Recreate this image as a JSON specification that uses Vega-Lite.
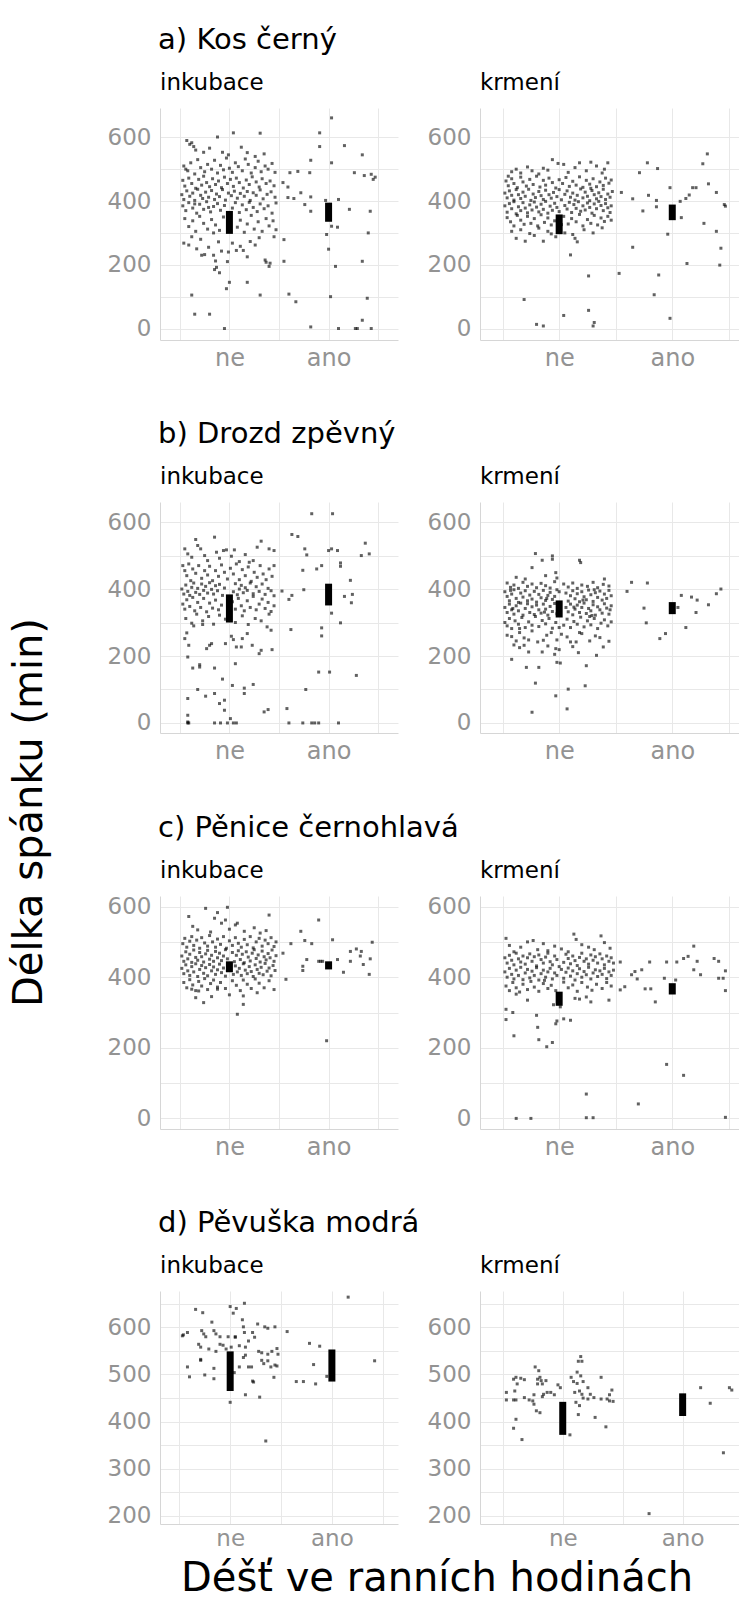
{
"$schema":"https://vega.github.io/schema/vega-lite/v6.json",
"padding":{"left":10,"top":26,"right":0,"bottom":0},
"config":{
 "font":"DejaVu Sans",
 "view":{"stroke":null},
 "axis":{"labelFont":"DejaVu Sans","labelColor":"#939393","gridColor":"#e8e8e8","gridWidth":1,"domainColor":"#d6d6d6","domainWidth":1,"ticks":false,"labelOverlap":false},
 "axisX":{"labelFontSize":24,"labelPadding":6},
 "axisY":{"labelFontSize":23,"labelPadding":9},
 "title":{"font":"DejaVu Sans","fontWeight":"normal","color":"#000000"}
},
"datasets":{
"bars":[{"p":"ai","x":100,"y":297,"y2":369},{"p":"ai","x":200,"y":335,"y2":395},{"p":"ak","x":100,"y":296,"y2":358},{"p":"ak","x":200,"y":340,"y2":389},{"p":"bi","x":100,"y":300,"y2":384},{"p":"bi","x":200,"y":351,"y2":416},{"p":"bk","x":100,"y":315,"y2":366},{"p":"bk","x":200,"y":325,"y2":361},{"p":"ci","x":100,"y":414,"y2":445},{"p":"ci","x":200,"y":422,"y2":445},{"p":"ck","x":100,"y":319,"y2":359},{"p":"ck","x":200,"y":351,"y2":383},{"p":"di","x":100,"y":465,"y2":549},{"p":"di","x":200,"y":485,"y2":553},{"p":"dk","x":100,"y":372,"y2":442},{"p":"dk","x":200,"y":412,"y2":460}],
"ai":[{"x":57,"y":590},{"x":60,"y":578},{"x":62,"y":583},{"x":64,"y":571},{"x":66,"y":560},{"x":88,"y":601},{"x":104,"y":614},{"x":131,"y":613},{"x":74,"y":553},{"x":93,"y":553},{"x":99,"y":545},{"x":112,"y":569},{"x":118,"y":552},{"x":126,"y":540},{"x":135,"y":548},{"x":80,"y":566},
{"x":54,"y":510},{"x":56,"y":500},{"x":58,"y":495},{"x":61,"y":520},{"x":65,"y":485},{"x":68,"y":530},{"x":71,"y":505},{"x":75,"y":492},{"x":78,"y":515},{"x":82,"y":500},{"x":85,"y":528},{"x":88,"y":488},{"x":91,"y":512},{"x":94,"y":498},{"x":97,"y":535},{"x":100,"y":503},{"x":103,"y":490},{"x":106,"y":520},{"x":109,"y":508},{"x":113,"y":495},{"x":116,"y":532},{"x":119,"y":515},{"x":122,"y":488},{"x":126,"y":505},{"x":129,"y":525},{"x":132,"y":492},{"x":136,"y":510},{"x":139,"y":500},{"x":143,"y":518},{"x":146,"y":490},
{"x":53,"y":465},{"x":55,"y":447},{"x":59,"y":472},{"x":62,"y":455},{"x":66,"y":440},{"x":69,"y":468},{"x":72,"y":450},{"x":74,"y":478},{"x":77,"y":458},{"x":80,"y":445},{"x":83,"y":470},{"x":86,"y":452},{"x":89,"y":463},{"x":92,"y":442},{"x":95,"y":475},{"x":98,"y":455},{"x":101,"y":468},{"x":104,"y":446},{"x":107,"y":472},{"x":110,"y":458},{"x":114,"y":441},{"x":117,"y":466},{"x":120,"y":452},{"x":123,"y":476},{"x":127,"y":460},{"x":130,"y":444},{"x":133,"y":470},{"x":137,"y":455},{"x":141,"y":463},{"x":145,"y":448},
{"x":52,"y":420},{"x":54,"y":405},{"x":57,"y":432},{"x":60,"y":415},{"x":63,"y":425},{"x":65,"y":402},{"x":68,"y":437},{"x":71,"y":418},{"x":73,"y":408},{"x":76,"y":428},{"x":79,"y":412},{"x":82,"y":433},{"x":85,"y":405},{"x":87,"y":422},{"x":90,"y":414},{"x":93,"y":436},{"x":96,"y":403},{"x":99,"y":425},{"x":102,"y":417},{"x":105,"y":431},{"x":108,"y":409},{"x":111,"y":424},{"x":115,"y":415},{"x":118,"y":430},{"x":121,"y":402},{"x":124,"y":426},{"x":127,"y":418},{"x":131,"y":435},{"x":134,"y":407},{"x":138,"y":421},{"x":142,"y":429},{"x":146,"y":412},
{"x":53,"y":385},{"x":56,"y":370},{"x":59,"y":395},{"x":63,"y":378},{"x":67,"y":362},{"x":70,"y":390},{"x":74,"y":374},{"x":77,"y":398},{"x":81,"y":366},{"x":84,"y":383},{"x":88,"y":392},{"x":91,"y":371},{"x":95,"y":386},{"x":103,"y":378},{"x":106,"y":395},{"x":110,"y":364},{"x":113,"y":388},{"x":117,"y":373},{"x":120,"y":396},{"x":124,"y":380},{"x":128,"y":367},{"x":131,"y":391},{"x":135,"y":376},{"x":139,"y":385},{"x":143,"y":362},{"x":147,"y":394},{"x":79,"y":380},{"x":65,"y":391},
{"x":55,"y":345},{"x":59,"y":320},{"x":63,"y":338},{"x":66,"y":305},{"x":70,"y":352},{"x":74,"y":330},{"x":78,"y":312},{"x":82,"y":342},{"x":86,"y":325},{"x":90,"y":308},{"x":94,"y":350},{"x":108,"y":318},{"x":111,"y":340},{"x":115,"y":302},{"x":118,"y":328},{"x":122,"y":355},{"x":125,"y":312},{"x":129,"y":335},{"x":133,"y":305},{"x":137,"y":345},{"x":140,"y":322},{"x":144,"y":338},{"x":147,"y":310},{"x":84,"y":300},
{"x":54,"y":268},{"x":59,"y":262},{"x":62,"y":288},{"x":67,"y":250},{"x":71,"y":280},{"x":75,"y":232},{"x":79,"y":255},{"x":84,"y":230},{"x":89,"y":272},{"x":92,"y":243},{"x":98,"y":210},{"x":103,"y":268},{"x":107,"y":245},{"x":111,"y":258},{"x":114,"y":245},{"x":118,"y":225},{"x":121,"y":273},{"x":126,"y":262},{"x":130,"y":285},{"x":136,"y":215},{"x":141,"y":205},{"x":145,"y":288},
{"x":62,"y":105},{"x":65,"y":45},{"x":80,"y":45},{"x":85,"y":185},{"x":87,"y":192},{"x":90,"y":175},{"x":95,"y":0},{"x":97,"y":125},{"x":100,"y":145},{"x":118,"y":145},{"x":131,"y":105},{"x":140,"y":195},{"x":72,"y":230},{"x":99,"y":240},{"x":86,"y":212},{"x":137,"y":208},
{"x":203,"y":661},{"x":191,"y":614},{"x":191,"y":571},{"x":216,"y":574},{"x":234,"y":545},{"x":182,"y":528},{"x":203,"y":520},{"x":161,"y":489},{"x":169,"y":493},{"x":181,"y":489},{"x":226,"y":489},{"x":243,"y":484},{"x":245,"y":468},{"x":154,"y":458},{"x":159,"y":444},{"x":172,"y":426},{"x":159,"y":411},{"x":165,"y":408},{"x":182,"y":413},{"x":197,"y":402},{"x":210,"y":405},{"x":221,"y":374},{"x":242,"y":368},{"x":182,"y":368},{"x":176,"y":389},{"x":209,"y":318},{"x":203,"y":321},{"x":198,"y":295},{"x":200,"y":249},{"x":240,"y":300},{"x":155,"y":279},{"x":155,"y":211},{"x":207,"y":195},{"x":234,"y":211},{"x":160,"y":108},{"x":167,"y":84},{"x":202,"y":100},{"x":239,"y":95},{"x":182,"y":5},{"x":210,"y":0},{"x":227,"y":0},{"x":229,"y":0},{"x":234,"y":26},{"x":243,"y":0},{"x":247,"y":475},{"x":236,"y":480}],
"ak":[{"x":55,"y":478},{"x":58,"y":492},{"x":62,"y":500},{"x":66,"y":488},{"x":72,"y":507},{"x":76,"y":495},{"x":82,"y":485},{"x":86,"y":503},{"x":90,"y":497},{"x":94,"y":530},{"x":99,"y":518},{"x":104,"y":515},{"x":108,"y":490},{"x":114,"y":505},{"x":118,"y":520},{"x":124,"y":495},{"x":128,"y":522},{"x":133,"y":510},{"x":138,"y":488},{"x":143,"y":520},{"x":140,"y":500},
{"x":53,"y":463},{"x":55,"y":448},{"x":58,"y":470},{"x":60,"y":455},{"x":63,"y":442},{"x":66,"y":475},{"x":68,"y":460},{"x":71,"y":447},{"x":74,"y":468},{"x":77,"y":452},{"x":80,"y":478},{"x":83,"y":444},{"x":86,"y":465},{"x":88,"y":450},{"x":91,"y":472},{"x":94,"y":458},{"x":97,"y":441},{"x":100,"y":467},{"x":103,"y":455},{"x":106,"y":474},{"x":109,"y":446},{"x":112,"y":462},{"x":115,"y":450},{"x":118,"y":476},{"x":121,"y":443},{"x":124,"y":465},{"x":127,"y":453},{"x":130,"y":470},{"x":133,"y":445},{"x":136,"y":460},{"x":139,"y":449},{"x":141,"y":472},{"x":144,"y":456},{"x":146,"y":466},{"x":128,"y":440},
{"x":52,"y":425},{"x":54,"y":410},{"x":56,"y":432},{"x":58,"y":418},{"x":60,"y":403},{"x":62,"y":436},{"x":64,"y":420},{"x":66,"y":408},{"x":68,"y":428},{"x":70,"y":415},{"x":73,"y":437},{"x":75,"y":402},{"x":77,"y":422},{"x":79,"y":411},{"x":82,"y":430},{"x":84,"y":417},{"x":86,"y":405},{"x":88,"y":434},{"x":91,"y":420},{"x":93,"y":409},{"x":95,"y":427},{"x":98,"y":414},{"x":100,"y":436},{"x":102,"y":404},{"x":105,"y":421},{"x":107,"y":432},{"x":110,"y":412},{"x":112,"y":425},{"x":114,"y":403},{"x":116,"y":418},{"x":119,"y":438},{"x":121,"y":410},{"x":123,"y":428},{"x":125,"y":415},{"x":127,"y":401},{"x":129,"y":433},{"x":131,"y":420},{"x":133,"y":407},{"x":135,"y":426},{"x":137,"y":414},{"x":139,"y":437},{"x":141,"y":405},{"x":143,"y":422},{"x":145,"y":412},{"x":147,"y":430},
{"x":52,"y":385},{"x":54,"y":365},{"x":56,"y":392},{"x":58,"y":376},{"x":60,"y":398},{"x":62,"y":360},{"x":64,"y":382},{"x":66,"y":370},{"x":68,"y":395},{"x":70,"y":378},{"x":72,"y":363},{"x":74,"y":388},{"x":76,"y":372},{"x":78,"y":397},{"x":80,"y":381},{"x":82,"y":366},{"x":84,"y":390},{"x":86,"y":374},{"x":88,"y":399},{"x":90,"y":362},{"x":92,"y":384},{"x":94,"y":371},{"x":96,"y":393},{"x":98,"y":380},{"x":100,"y":367},{"x":105,"y":386},{"x":107,"y":375},{"x":109,"y":396},{"x":111,"y":364},{"x":113,"y":389},{"x":115,"y":377},{"x":117,"y":398},{"x":119,"y":368},{"x":121,"y":385},{"x":123,"y":372},{"x":125,"y":394},{"x":127,"y":380},{"x":129,"y":362},{"x":131,"y":391},{"x":133,"y":376},{"x":135,"y":399},{"x":137,"y":386},{"x":139,"y":370},{"x":141,"y":392},{"x":143,"y":379},{"x":146,"y":385},{"x":145,"y":364},
{"x":54,"y":348},{"x":57,"y":335},{"x":60,"y":322},{"x":63,"y":355},{"x":66,"y":340},{"x":69,"y":327},{"x":72,"y":352},{"x":75,"y":330},{"x":78,"y":345},{"x":81,"y":322},{"x":84,"y":357},{"x":87,"y":333},{"x":90,"y":347},{"x":93,"y":325},{"x":96,"y":338},{"x":104,"y":352},{"x":108,"y":328},{"x":111,"y":345},{"x":115,"y":335},{"x":118,"y":358},{"x":121,"y":322},{"x":125,"y":342},{"x":128,"y":330},{"x":131,"y":355},{"x":134,"y":325},{"x":137,"y":347},{"x":140,"y":336},{"x":143,"y":352},{"x":146,"y":340},{"x":102,"y":326},
{"x":58,"y":305},{"x":62,"y":283},{"x":66,"y":310},{"x":70,"y":274},{"x":74,"y":298},{"x":78,"y":292},{"x":82,"y":315},{"x":86,"y":274},{"x":90,"y":305},{"x":93,"y":297},{"x":97,"y":288},{"x":105,"y":300},{"x":112,"y":295},{"x":114,"y":283},{"x":116,"y":272},{"x":122,"y":310},{"x":130,"y":300},{"x":138,"y":316},
{"x":69,"y":91},{"x":80,"y":13},{"x":86,"y":8},{"x":104,"y":41},{"x":110,"y":231},{"x":126,"y":165},{"x":126,"y":57},{"x":130,"y":8},{"x":131,"y":19},
{"x":153,"y":173},{"x":165,"y":255},{"x":171,"y":489},{"x":174,"y":369},{"x":165,"y":407},{"x":178,"y":520},{"x":187,"y":502},{"x":179,"y":418},{"x":186,"y":402},{"x":186,"y":382},{"x":188,"y":168},{"x":184,"y":106},{"x":198,"y":32},{"x":196,"y":296},{"x":198,"y":442},{"x":207,"y":399},{"x":208,"y":348},{"x":213,"y":204},{"x":212,"y":408},{"x":218,"y":442},{"x":221,"y":442},{"x":215,"y":419},{"x":227,"y":517},{"x":231,"y":548},{"x":232,"y":454},{"x":239,"y":427},{"x":228,"y":330},{"x":239,"y":305},{"x":243,"y":252},{"x":242,"y":199},{"x":246,"y":389},{"x":247,"y":384},{"x":155,"y":427}],
"bi":[{"x":55,"y":520},{"x":58,"y":505},{"x":62,"y":495},{"x":66,"y":548},{"x":68,"y":530},{"x":71,"y":520},{"x":75,"y":500},{"x":78,"y":485},{"x":85,"y":555},{"x":87,"y":510},{"x":90,"y":492},{"x":94,"y":515},{"x":97,"y":517},{"x":102,"y":498},{"x":105,"y":517},{"x":110,"y":482},{"x":116,"y":503},{"x":124,"y":485},{"x":128,"y":525},{"x":132,"y":543},{"x":140,"y":520},{"x":145,"y":515},
{"x":53,"y":470},{"x":55,"y":455},{"x":57,"y":440},{"x":59,"y":475},{"x":61,"y":425},{"x":63,"y":460},{"x":66,"y":447},{"x":69,"y":470},{"x":72,"y":432},{"x":75,"y":455},{"x":78,"y":442},{"x":80,"y":468},{"x":83,"y":425},{"x":86,"y":455},{"x":89,"y":438},{"x":92,"y":472},{"x":95,"y":450},{"x":98,"y":430},{"x":101,"y":462},{"x":104,"y":445},{"x":107,"y":475},{"x":110,"y":428},{"x":113,"y":458},{"x":116,"y":440},{"x":119,"y":466},{"x":122,"y":423},{"x":125,"y":450},{"x":128,"y":435},{"x":131,"y":470},{"x":134,"y":445},{"x":137,"y":428},{"x":140,"y":460},{"x":143,"y":438},{"x":145,"y":470},{"x":120,"y":480},
{"x":52,"y":400},{"x":54,"y":385},{"x":56,"y":412},{"x":58,"y":393},{"x":60,"y":381},{"x":62,"y":405},{"x":64,"y":418},{"x":66,"y":390},{"x":68,"y":402},{"x":70,"y":384},{"x":72,"y":415},{"x":74,"y":396},{"x":76,"y":408},{"x":78,"y":388},{"x":80,"y":419},{"x":82,"y":399},{"x":84,"y":385},{"x":86,"y":410},{"x":88,"y":395},{"x":90,"y":414},{"x":93,"y":381},{"x":95,"y":403},{"x":104,"y":392},{"x":106,"y":416},{"x":108,"y":383},{"x":110,"y":400},{"x":112,"y":411},{"x":114,"y":389},{"x":116,"y":404},{"x":118,"y":396},{"x":121,"y":418},{"x":124,"y":386},{"x":127,"y":407},{"x":130,"y":393},{"x":133,"y":415},{"x":136,"y":384},{"x":139,"y":402},{"x":142,"y":395},{"x":145,"y":380},
{"x":53,"y":355},{"x":55,"y":340},{"x":57,"y":368},{"x":60,"y":348},{"x":63,"y":375},{"x":65,"y":335},{"x":68,"y":360},{"x":71,"y":345},{"x":74,"y":372},{"x":77,"y":332},{"x":80,"y":358},{"x":83,"y":343},{"x":86,"y":367},{"x":89,"y":338},{"x":92,"y":352},{"x":103,"y":362},{"x":106,"y":340},{"x":109,"y":372},{"x":112,"y":350},{"x":115,"y":335},{"x":118,"y":365},{"x":121,"y":345},{"x":124,"y":378},{"x":127,"y":338},{"x":130,"y":355},{"x":133,"y":370},{"x":136,"y":342},{"x":139,"y":360},{"x":142,"y":333},{"x":145,"y":350},
{"x":56,"y":312},{"x":62,"y":298},{"x":67,"y":325},{"x":73,"y":305},{"x":79,"y":318},{"x":84,"y":295},{"x":90,"y":322},{"x":96,"y":310},{"x":106,"y":300},{"x":113,"y":320},{"x":119,"y":294},{"x":126,"y":312},{"x":132,"y":305},{"x":140,"y":325},
{"x":58,"y":0},{"x":58,"y":3},{"x":59,"y":0},{"x":58,"y":23},{"x":85,"y":0},{"x":91,"y":0},{"x":98,"y":0},{"x":104,"y":0},{"x":107,"y":0},{"x":101,"y":13},{"x":58,"y":73},{"x":68,"y":100},{"x":76,"y":80},{"x":85,"y":88},{"x":90,"y":58},{"x":95,"y":68},{"x":95,"y":38},{"x":103,"y":112},{"x":115,"y":104},{"x":115,"y":88},{"x":124,"y":115},{"x":135,"y":33},{"x":139,"y":40},{"x":58,"y":197},{"x":63,"y":164},{"x":70,"y":167},{"x":70,"y":174},{"x":85,"y":164},{"x":93,"y":131},{"x":106,"y":177},{"x":130,"y":207},{"x":132,"y":217},{"x":143,"y":219},{"x":55,"y":252},{"x":57,"y":269},{"x":59,"y":232},{"x":77,"y":222},{"x":80,"y":232},{"x":82,"y":237},{"x":96,"y":237},{"x":102,"y":259},{"x":104,"y":249},{"x":107,"y":227},{"x":112,"y":227},{"x":113,"y":252},{"x":123,"y":232},{"x":118,"y":267},{"x":138,"y":287},{"x":142,"y":277},{"x":64,"y":290},{"x":73,"y":294},
{"x":183,"y":625},{"x":204,"y":625},{"x":163,"y":563},{"x":169,"y":557},{"x":176,"y":520},{"x":178,"y":502},{"x":200,"y":515},{"x":203,"y":520},{"x":209,"y":515},{"x":212,"y":478},{"x":212,"y":468},{"x":188,"y":460},{"x":193,"y":470},{"x":174,"y":456},{"x":237,"y":537},{"x":241,"y":505},{"x":233,"y":500},{"x":153,"y":394},{"x":160,"y":369},{"x":163,"y":381},{"x":175,"y":398},{"x":216,"y":378},{"x":223,"y":359},{"x":224,"y":384},{"x":222,"y":426},{"x":203,"y":328},{"x":212,"y":299},{"x":193,"y":284},{"x":193,"y":260},{"x":162,"y":279},{"x":190,"y":152},{"x":201,"y":152},{"x":228,"y":142},{"x":177,"y":100},{"x":158,"y":43},{"x":160,"y":0},{"x":174,"y":0},{"x":183,"y":0},{"x":186,"y":0},{"x":190,"y":0},{"x":210,"y":0}],
"bk":[{"x":54,"y":418},{"x":57,"y":405},{"x":60,"y":412},{"x":64,"y":402},{"x":68,"y":420},{"x":72,"y":408},{"x":76,"y":415},{"x":80,"y":404},{"x":84,"y":417},{"x":88,"y":410},{"x":92,"y":403},{"x":96,"y":422},{"x":104,"y":415},{"x":108,"y":406},{"x":112,"y":418},{"x":116,"y":402},{"x":120,"y":412},{"x":125,"y":408},{"x":130,"y":420},{"x":134,"y":404},{"x":139,"y":414},{"x":144,"y":409},
{"x":52,"y":392},{"x":54,"y":378},{"x":56,"y":365},{"x":58,"y":385},{"x":60,"y":398},{"x":62,"y":372},{"x":64,"y":360},{"x":66,"y":388},{"x":68,"y":376},{"x":70,"y":395},{"x":72,"y":365},{"x":74,"y":382},{"x":76,"y":370},{"x":78,"y":393},{"x":80,"y":361},{"x":82,"y":384},{"x":84,"y":374},{"x":86,"y":396},{"x":88,"y":366},{"x":90,"y":381},{"x":92,"y":390},{"x":94,"y":369},{"x":96,"y":378},{"x":98,"y":398},{"x":106,"y":388},{"x":108,"y":364},{"x":110,"y":380},{"x":112,"y":395},{"x":114,"y":371},{"x":116,"y":386},{"x":118,"y":362},{"x":120,"y":392},{"x":122,"y":377},{"x":124,"y":368},{"x":126,"y":397},{"x":128,"y":383},{"x":130,"y":363},{"x":132,"y":389},{"x":134,"y":375},{"x":136,"y":394},{"x":138,"y":367},{"x":140,"y":385},{"x":142,"y":372},{"x":144,"y":396},{"x":146,"y":380},{"x":100,"y":392},{"x":89,"y":372},{"x":121,"y":367},{"x":131,"y":398},{"x":57,"y":396},
{"x":52,"y":345},{"x":54,"y":330},{"x":56,"y":355},{"x":58,"y":338},{"x":60,"y":325},{"x":62,"y":350},{"x":64,"y":335},{"x":66,"y":358},{"x":68,"y":322},{"x":70,"y":342},{"x":72,"y":356},{"x":74,"y":330},{"x":76,"y":347},{"x":78,"y":324},{"x":80,"y":352},{"x":82,"y":338},{"x":84,"y":328},{"x":86,"y":355},{"x":88,"y":340},{"x":90,"y":322},{"x":92,"y":348},{"x":94,"y":333},{"x":96,"y":357},{"x":98,"y":326},{"x":106,"y":345},{"x":108,"y":332},{"x":110,"y":355},{"x":112,"y":323},{"x":114,"y":340},{"x":116,"y":352},{"x":118,"y":330},{"x":120,"y":345},{"x":122,"y":358},{"x":124,"y":327},{"x":126,"y":342},{"x":128,"y":335},{"x":130,"y":353},{"x":132,"y":322},{"x":134,"y":347},{"x":136,"y":338},{"x":138,"y":328},{"x":140,"y":356},{"x":142,"y":343},{"x":144,"y":325},{"x":146,"y":350},{"x":59,"y":342},{"x":87,"y":331},{"x":113,"y":346},{"x":129,"y":321},{"x":145,"y":338},
{"x":52,"y":300},{"x":54,"y":290},{"x":56,"y":312},{"x":58,"y":282},{"x":61,"y":305},{"x":64,"y":295},{"x":67,"y":315},{"x":70,"y":285},{"x":73,"y":302},{"x":76,"y":292},{"x":79,"y":318},{"x":82,"y":288},{"x":85,"y":306},{"x":88,"y":296},{"x":91,"y":312},{"x":94,"y":283},{"x":97,"y":300},{"x":104,"y":292},{"x":107,"y":310},{"x":110,"y":285},{"x":113,"y":303},{"x":116,"y":295},{"x":119,"y":316},{"x":122,"y":287},{"x":125,"y":305},{"x":128,"y":293},{"x":131,"y":312},{"x":134,"y":282},{"x":137,"y":298},{"x":140,"y":308},{"x":143,"y":290},{"x":146,"y":302},{"x":65,"y":282},{"x":100,"y":285},{"x":127,"y":318},
{"x":54,"y":262},{"x":58,"y":258},{"x":62,"y":245},{"x":65,"y":270},{"x":69,"y":254},{"x":73,"y":248},{"x":76,"y":275},{"x":81,"y":242},{"x":86,"y":247},{"x":89,"y":262},{"x":93,"y":270},{"x":98,"y":248},{"x":102,"y":265},{"x":107,"y":257},{"x":110,"y":242},{"x":115,"y":242},{"x":118,"y":270},{"x":120,"y":267},{"x":127,"y":245},{"x":132,"y":260},{"x":136,"y":255},{"x":144,"y":244},
{"x":58,"y":190},{"x":71,"y":166},{"x":79,"y":119},{"x":82,"y":166},{"x":76,"y":32},{"x":97,"y":81},{"x":107,"y":42},{"x":108,"y":101},{"x":123,"y":111},{"x":124,"y":171},{"x":133,"y":202},{"x":101,"y":179},{"x":98,"y":181},{"x":97,"y":222},{"x":100,"y":219},{"x":96,"y":205},{"x":65,"y":225},{"x":73,"y":212},{"x":69,"y":232},{"x":60,"y":233},{"x":90,"y":230},{"x":112,"y":228},{"x":139,"y":227},{"x":117,"y":210},{"x":85,"y":212},
{"x":79,"y":506},{"x":85,"y":486},{"x":94,"y":489},{"x":94,"y":499},{"x":76,"y":464},{"x":118,"y":486},{"x":119,"y":479},{"x":97,"y":449},{"x":98,"y":433},{"x":88,"y":440},{"x":70,"y":430},{"x":140,"y":430},{"x":62,"y":435},
{"x":160,"y":393},{"x":164,"y":420},{"x":178,"y":418},{"x":175,"y":343},{"x":177,"y":299},{"x":189,"y":252},{"x":194,"y":267},{"x":205,"y":345},{"x":208,"y":381},{"x":212,"y":285},{"x":217,"y":376},{"x":222,"y":367},{"x":221,"y":330},{"x":232,"y":353},{"x":239,"y":386},{"x":243,"y":400}],
"ci":[{"x":76,"y":595},{"x":98,"y":598},{"x":59,"y":572},{"x":63,"y":544},{"x":85,"y":567},{"x":88,"y":583},{"x":92,"y":553},{"x":96,"y":562},{"x":106,"y":548},{"x":108,"y":553},{"x":140,"y":576},{"x":68,"y":534},{"x":115,"y":530},{"x":125,"y":540},{"x":131,"y":525},{"x":81,"y":528},{"x":100,"y":536},{"x":137,"y":532},
{"x":53,"y":495},{"x":55,"y":510},{"x":57,"y":485},{"x":60,"y":502},{"x":62,"y":515},{"x":64,"y":490},{"x":67,"y":505},{"x":70,"y":482},{"x":72,"y":512},{"x":75,"y":497},{"x":78,"y":488},{"x":80,"y":518},{"x":83,"y":500},{"x":86,"y":485},{"x":88,"y":508},{"x":91,"y":493},{"x":94,"y":515},{"x":97,"y":482},{"x":100,"y":503},{"x":103,"y":490},{"x":106,"y":512},{"x":109,"y":496},{"x":112,"y":485},{"x":115,"y":507},{"x":118,"y":492},{"x":121,"y":515},{"x":124,"y":483},{"x":127,"y":500},{"x":130,"y":510},{"x":133,"y":488},{"x":136,"y":505},{"x":139,"y":495},{"x":142,"y":512},{"x":145,"y":487},{"x":147,"y":500},
{"x":52,"y":460},{"x":54,"y":445},{"x":56,"y":472},{"x":58,"y":452},{"x":60,"y":465},{"x":62,"y":442},{"x":64,"y":477},{"x":66,"y":456},{"x":68,"y":448},{"x":70,"y":470},{"x":72,"y":458},{"x":74,"y":443},{"x":76,"y":466},{"x":78,"y":476},{"x":80,"y":451},{"x":82,"y":462},{"x":84,"y":445},{"x":86,"y":473},{"x":88,"y":455},{"x":90,"y":468},{"x":92,"y":447},{"x":94,"y":460},{"x":96,"y":478},{"x":98,"y":452},{"x":103,"y":470},{"x":105,"y":444},{"x":107,"y":462},{"x":109,"y":475},{"x":111,"y":450},{"x":113,"y":465},{"x":115,"y":441},{"x":117,"y":472},{"x":119,"y":457},{"x":121,"y":446},{"x":123,"y":468},{"x":125,"y":478},{"x":127,"y":453},{"x":129,"y":463},{"x":131,"y":443},{"x":133,"y":474},{"x":135,"y":458},{"x":137,"y":449},{"x":139,"y":467},{"x":141,"y":455},{"x":143,"y":477},{"x":145,"y":445},{"x":147,"y":461},
{"x":52,"y":425},{"x":54,"y":410},{"x":56,"y":435},{"x":58,"y":418},{"x":60,"y":405},{"x":62,"y":430},{"x":64,"y":415},{"x":66,"y":438},{"x":68,"y":402},{"x":70,"y":422},{"x":72,"y":433},{"x":74,"y":411},{"x":76,"y":427},{"x":78,"y":404},{"x":80,"y":436},{"x":82,"y":418},{"x":84,"y":429},{"x":86,"y":408},{"x":88,"y":421},{"x":90,"y":437},{"x":92,"y":413},{"x":94,"y":426},{"x":96,"y":403},{"x":98,"y":419},{"x":104,"y":408},{"x":106,"y":432},{"x":108,"y":415},{"x":110,"y":425},{"x":112,"y":405},{"x":114,"y":438},{"x":116,"y":420},{"x":118,"y":410},{"x":120,"y":430},{"x":122,"y":416},{"x":124,"y":402},{"x":126,"y":435},{"x":128,"y":422},{"x":130,"y":411},{"x":132,"y":428},{"x":134,"y":407},{"x":136,"y":439},{"x":138,"y":417},{"x":140,"y":426},{"x":142,"y":404},{"x":144,"y":433},{"x":146,"y":419},
{"x":54,"y":385},{"x":57,"y":370},{"x":60,"y":393},{"x":63,"y":378},{"x":66,"y":362},{"x":69,"y":388},{"x":72,"y":375},{"x":75,"y":396},{"x":78,"y":365},{"x":81,"y":382},{"x":84,"y":392},{"x":88,"y":372},{"x":91,"y":385},{"x":96,"y":368},{"x":103,"y":390},{"x":107,"y":377},{"x":111,"y":362},{"x":114,"y":392},{"x":118,"y":380},{"x":122,"y":368},{"x":126,"y":395},{"x":130,"y":383},{"x":135,"y":370},{"x":140,"y":390},{"x":145,"y":365},
{"x":74,"y":328},{"x":114,"y":323},{"x":114,"y":347},{"x":128,"y":356},{"x":108,"y":295},{"x":88,"y":366},{"x":62,"y":366},{"x":69,"y":361},{"x":66,"y":342},{"x":82,"y":345},{"x":100,"y":350},
{"x":190,"y":562},{"x":172,"y":530},{"x":176,"y":504},{"x":183,"y":495},{"x":162,"y":495},{"x":154,"y":468},{"x":157,"y":394},{"x":174,"y":431},{"x":174,"y":419},{"x":178,"y":450},{"x":190,"y":445},{"x":192,"y":445},{"x":194,"y":445},{"x":204,"y":506},{"x":209,"y":450},{"x":215,"y":414},{"x":222,"y":473},{"x":222,"y":445},{"x":228,"y":480},{"x":233,"y":473},{"x":235,"y":436},{"x":244,"y":499},{"x":242,"y":452},{"x":241,"y":408},{"x":198,"y":220},{"x":232,"y":460}],
"ck":[{"x":53,"y":510},{"x":56,"y":490},{"x":60,"y":472},{"x":66,"y":485},{"x":72,"y":500},{"x":77,"y":504},{"x":81,"y":478},{"x":86,"y":495},{"x":90,"y":475},{"x":96,"y":488},{"x":102,"y":480},{"x":108,"y":472},{"x":113,"y":522},{"x":115,"y":507},{"x":120,"y":492},{"x":126,"y":485},{"x":131,"y":478},{"x":137,"y":517},{"x":140,"y":498},{"x":145,"y":482},
{"x":52,"y":455},{"x":54,"y":440},{"x":56,"y":462},{"x":58,"y":448},{"x":60,"y":435},{"x":62,"y":468},{"x":64,"y":452},{"x":66,"y":443},{"x":68,"y":460},{"x":70,"y":437},{"x":72,"y":455},{"x":74,"y":466},{"x":76,"y":445},{"x":78,"y":458},{"x":80,"y":432},{"x":82,"y":463},{"x":84,"y":450},{"x":86,"y":440},{"x":88,"y":457},{"x":90,"y":468},{"x":92,"y":444},{"x":94,"y":435},{"x":96,"y":460},{"x":98,"y":450},{"x":104,"y":442},{"x":106,"y":465},{"x":108,"y":453},{"x":110,"y":438},{"x":112,"y":460},{"x":114,"y":447},{"x":116,"y":433},{"x":118,"y":456},{"x":120,"y":468},{"x":122,"y":445},{"x":124,"y":452},{"x":126,"y":437},{"x":128,"y":463},{"x":130,"y":448},{"x":132,"y":458},{"x":134,"y":440},{"x":136,"y":466},{"x":138,"y":452},{"x":140,"y":435},{"x":142,"y":460},{"x":144,"y":445},{"x":146,"y":455},{"x":148,"y":440},
{"x":52,"y":415},{"x":54,"y":400},{"x":56,"y":425},{"x":58,"y":408},{"x":60,"y":395},{"x":62,"y":420},{"x":64,"y":405},{"x":66,"y":428},{"x":68,"y":393},{"x":70,"y":412},{"x":72,"y":422},{"x":74,"y":398},{"x":76,"y":417},{"x":78,"y":405},{"x":80,"y":427},{"x":82,"y":392},{"x":84,"y":410},{"x":86,"y":420},{"x":88,"y":400},{"x":90,"y":415},{"x":92,"y":425},{"x":94,"y":395},{"x":96,"y":412},{"x":98,"y":405},{"x":102,"y":422},{"x":104,"y":397},{"x":106,"y":414},{"x":108,"y":426},{"x":110,"y":403},{"x":112,"y":418},{"x":114,"y":392},{"x":116,"y":410},{"x":118,"y":424},{"x":120,"y":400},{"x":122,"y":416},{"x":124,"y":407},{"x":126,"y":428},{"x":128,"y":395},{"x":130,"y":412},{"x":132,"y":421},{"x":134,"y":402},{"x":136,"y":418},{"x":138,"y":408},{"x":140,"y":425},{"x":142,"y":396},{"x":144,"y":415},{"x":146,"y":405},{"x":148,"y":420},{"x":100,"y":430},{"x":87,"y":391},
{"x":53,"y":375},{"x":56,"y":362},{"x":59,"y":385},{"x":62,"y":370},{"x":65,"y":358},{"x":68,"y":380},{"x":72,"y":365},{"x":75,"y":388},{"x":78,"y":372},{"x":82,"y":360},{"x":86,"y":382},{"x":90,"y":368},{"x":93,"y":377},{"x":97,"y":362},{"x":104,"y":386},{"x":108,"y":370},{"x":112,"y":378},{"x":116,"y":360},{"x":120,"y":385},{"x":125,"y":372},{"x":129,"y":363},{"x":133,"y":380},{"x":138,"y":368},{"x":142,"y":385},{"x":146,"y":375},
{"x":53,"y":309},{"x":59,"y":300},{"x":53,"y":280},{"x":60,"y":234},{"x":80,"y":292},{"x":81,"y":258},{"x":82,"y":223},{"x":89,"y":203},{"x":94,"y":215},{"x":98,"y":276},{"x":97,"y":268},{"x":104,"y":282},{"x":110,"y":278},{"x":95,"y":322},{"x":101,"y":316},{"x":72,"y":335},{"x":62,"y":352},{"x":114,"y":340},{"x":118,"y":338},{"x":124,"y":344},{"x":128,"y":330},{"x":144,"y":335},{"x":62,"y":0},{"x":75,"y":0},{"x":124,"y":69},{"x":124,"y":2},{"x":130,"y":2},
{"x":154,"y":443},{"x":154,"y":364},{"x":158,"y":373},{"x":164,"y":407},{"x":167,"y":416},{"x":169,"y":395},{"x":173,"y":421},{"x":170,"y":41},{"x":176,"y":367},{"x":180,"y":443},{"x":181,"y":367},{"x":185,"y":330},{"x":195,"y":153},{"x":193,"y":397},{"x":195,"y":443},{"x":204,"y":443},{"x":210,"y":122},{"x":210,"y":453},{"x":214,"y":459},{"x":219,"y":488},{"x":222,"y":445},{"x":219,"y":421},{"x":225,"y":407},{"x":237,"y":453},{"x":241,"y":445},{"x":241,"y":397},{"x":245,"y":397},{"x":247,"y":418},{"x":247,"y":362},{"x":247,"y":3},{"x":203,"y":392}],
"di":[{"x":66,"y":638},{"x":73,"y":631},{"x":100,"y":644},{"x":106,"y":640},{"x":114,"y":651},{"x":103,"y":630},{"x":112,"y":616},{"x":82,"y":611},{"x":54,"y":584},{"x":53,"y":582},{"x":58,"y":589},{"x":72,"y":593},{"x":74,"y":586},{"x":76,"y":580},{"x":84,"y":593},{"x":86,"y":586},{"x":90,"y":580},{"x":98,"y":580},{"x":105,"y":580},{"x":105,"y":579},{"x":113,"y":601},{"x":114,"y":589},{"x":122,"y":589},{"x":124,"y":579},{"x":127,"y":607},{"x":134,"y":601},{"x":137,"y":598},{"x":144,"y":601},{"x":156,"y":591},{"x":69,"y":564},{"x":71,"y":558},{"x":79,"y":554},{"x":90,"y":564},{"x":93,"y":562},{"x":96,"y":554},{"x":101,"y":558},{"x":109,"y":561},{"x":115,"y":558},{"x":118,"y":571},{"x":128,"y":549},{"x":131,"y":546},{"x":137,"y":543},{"x":141,"y":549},{"x":146,"y":555},{"x":147,"y":543},{"x":71,"y":532},{"x":86,"y":549},{"x":113,"y":536},{"x":115,"y":541},{"x":131,"y":530},{"x":133,"y":523},{"x":137,"y":529},{"x":144,"y":520},{"x":146,"y":518},{"x":58,"y":516},{"x":60,"y":495},{"x":71,"y":530},{"x":75,"y":499},{"x":84,"y":513},{"x":84,"y":491},{"x":109,"y":516},{"x":104,"y":504},{"x":118,"y":516},{"x":121,"y":516},{"x":140,"y":516},{"x":143,"y":494},{"x":122,"y":486},{"x":123,"y":484},{"x":115,"y":457},{"x":129,"y":452},{"x":100,"y":441},{"x":135,"y":359},
{"x":216,"y":664},{"x":165,"y":485},{"x":172,"y":485},{"x":184,"y":480},{"x":182,"y":521},{"x":188,"y":560},{"x":178,"y":566},{"x":195,"y":496},{"x":242,"y":529}],
"dk":[{"x":53,"y":462},{"x":53,"y":446},{"x":59,"y":490},{"x":61,"y":494},{"x":62,"y":480},{"x":60,"y":465},{"x":59,"y":446},{"x":61,"y":446},{"x":65,"y":492},{"x":68,"y":489},{"x":61,"y":405},{"x":59,"y":386},{"x":66,"y":362},{"x":68,"y":451},{"x":72,"y":446},{"x":75,"y":444},{"x":76,"y":457},{"x":76,"y":437},{"x":77,"y":516},{"x":80,"y":508},{"x":79,"y":490},{"x":79,"y":480},{"x":81,"y":494},{"x":82,"y":487},{"x":83,"y":480},{"x":84,"y":458},{"x":78,"y":423},{"x":81,"y":419},{"x":86,"y":487},{"x":87,"y":462},{"x":83,"y":453},{"x":90,"y":462},{"x":93,"y":457},{"x":96,"y":478},{"x":98,"y":472},{"x":106,"y":372},{"x":107,"y":494},{"x":109,"y":485},{"x":110,"y":462},{"x":111,"y":441},{"x":112,"y":481},{"x":115,"y":538},{"x":113,"y":528},{"x":116,"y":528},{"x":112,"y":505},{"x":115,"y":497},{"x":117,"y":485},{"x":114,"y":465},{"x":116,"y":458},{"x":117,"y":450},{"x":121,"y":472},{"x":121,"y":448},{"x":114,"y":434},{"x":113,"y":415},{"x":123,"y":458},{"x":127,"y":409},{"x":132,"y":494},{"x":132,"y":448},{"x":137,"y":448},{"x":136,"y":389},{"x":139,"y":457},{"x":139,"y":444},{"x":142,"y":443},{"x":141,"y":467},{"x":126,"y":451},
{"x":172,"y":205},{"x":215,"y":472},{"x":223,"y":439},{"x":234,"y":334},{"x":239,"y":472},{"x":241,"y":467}]
},
"title":{"text":"Délka spánku (min)","orient":"left","anchor":"middle","fontSize":40,"offset":57},
"vconcat":[{
 "title":{"text":"Déšť ve ranních hodinách","orient":"bottom","anchor":"middle","fontSize":40,"offset":9,"dx":14},
 "spacing":50,
 "vconcat":[
 {"title":{"text":"a) Kos černý","anchor":"start","fontSize":29,"offset":17,"dx":51},"spacing":29,"hconcat":[
  {"width":238,"height":232,"title":{"text":"inkubace","anchor":"start","frame":"group","fontSize":23,"offset":13},
   "encoding":{"x":{"field":"x","type":"quantitative","scale":{"domain":[30,270],"nice":false,"zero":false},"axis":{"values":[50,100,150,200,250],"labelExpr":"datum.value===100?'ne':datum.value===200?'ano':''","title":null}},
    "y":{"field":"y","type":"quantitative","scale":{"domain":[-36,692],"nice":false,"zero":false},"axis":{"values":[0,100,200,300,400,500,600],"labelExpr":"datum.value%200===0?datum.label:''","title":null}}},
   "layer":[{"data":{"name":"ai"},"mark":{"type":"point","shape":"square","filled":true,"size":9,"color":"#000000","opacity":0.62,"clip":true}},
    {"data":{"name":"bars"},"transform":[{"filter":"datum.p==='ai'"}],"mark":{"type":"rule","strokeWidth":7,"color":"#000000","strokeCap":"butt"},"encoding":{"y2":{"field":"y2"}}}]},
  {"width":259,"height":232,"title":{"text":"krmení","anchor":"start","frame":"group","fontSize":23,"offset":13},
   "encoding":{"x":{"field":"x","type":"quantitative","scale":{"domain":[30,259],"nice":false,"zero":false},"axis":{"values":[50,100,150,200,250],"labelExpr":"datum.value===100?'ne':datum.value===200?'ano':''","title":null}},
    "y":{"field":"y","type":"quantitative","scale":{"domain":[-36,692],"nice":false,"zero":false},"axis":{"values":[0,100,200,300,400,500,600],"labelExpr":"datum.value%200===0?datum.label:''","title":null}}},
   "layer":[{"data":{"name":"ak"},"mark":{"type":"point","shape":"square","filled":true,"size":9,"color":"#000000","opacity":0.62,"clip":true}},
    {"data":{"name":"bars"},"transform":[{"filter":"datum.p==='ak'"}],"mark":{"type":"rule","strokeWidth":7,"color":"#000000","strokeCap":"butt"},"encoding":{"y2":{"field":"y2"}}}]}
 ]},
 {"title":{"text":"b) Drozd zpěvný","anchor":"start","fontSize":29,"offset":17,"dx":51},"spacing":29,"hconcat":[
  {"width":238,"height":231,"title":{"text":"inkubace","anchor":"start","frame":"group","fontSize":23,"offset":13},
   "encoding":{"x":{"field":"x","type":"quantitative","scale":{"domain":[30,270],"nice":false,"zero":false},"axis":{"values":[50,100,150,200,250],"labelExpr":"datum.value===100?'ne':datum.value===200?'ano':''","title":null}},
    "y":{"field":"y","type":"quantitative","scale":{"domain":[-30,660],"nice":false,"zero":false},"axis":{"values":[0,100,200,300,400,500,600],"labelExpr":"datum.value%200===0?datum.label:''","title":null}}},
   "layer":[{"data":{"name":"bi"},"mark":{"type":"point","shape":"square","filled":true,"size":9,"color":"#000000","opacity":0.62,"clip":true}},
    {"data":{"name":"bars"},"transform":[{"filter":"datum.p==='bi'"}],"mark":{"type":"rule","strokeWidth":7,"color":"#000000","strokeCap":"butt"},"encoding":{"y2":{"field":"y2"}}}]},
  {"width":259,"height":231,"title":{"text":"krmení","anchor":"start","frame":"group","fontSize":23,"offset":13},
   "encoding":{"x":{"field":"x","type":"quantitative","scale":{"domain":[30,259],"nice":false,"zero":false},"axis":{"values":[50,100,150,200,250],"labelExpr":"datum.value===100?'ne':datum.value===200?'ano':''","title":null}},
    "y":{"field":"y","type":"quantitative","scale":{"domain":[-30,660],"nice":false,"zero":false},"axis":{"values":[0,100,200,300,400,500,600],"labelExpr":"datum.value%200===0?datum.label:''","title":null}}},
   "layer":[{"data":{"name":"bk"},"mark":{"type":"point","shape":"square","filled":true,"size":9,"color":"#000000","opacity":0.62,"clip":true}},
    {"data":{"name":"bars"},"transform":[{"filter":"datum.p==='bk'"}],"mark":{"type":"rule","strokeWidth":7,"color":"#000000","strokeCap":"butt"},"encoding":{"y2":{"field":"y2"}}}]}
 ]},
 {"title":{"text":"c) Pěnice černohlavá","anchor":"start","fontSize":29,"offset":17,"dx":51},"spacing":29,"hconcat":[
  {"width":238,"height":233,"title":{"text":"inkubace","anchor":"start","frame":"group","fontSize":23,"offset":13},
   "encoding":{"x":{"field":"x","type":"quantitative","scale":{"domain":[30,270],"nice":false,"zero":false},"axis":{"values":[50,100,150,200,250],"labelExpr":"datum.value===100?'ne':datum.value===200?'ano':''","title":null}},
    "y":{"field":"y","type":"quantitative","scale":{"domain":[-30,630],"nice":false,"zero":false},"axis":{"values":[0,100,200,300,400,500,600],"labelExpr":"datum.value%200===0?datum.label:''","title":null}}},
   "layer":[{"data":{"name":"ci"},"mark":{"type":"point","shape":"square","filled":true,"size":9,"color":"#000000","opacity":0.62,"clip":true}},
    {"data":{"name":"bars"},"transform":[{"filter":"datum.p==='ci'"}],"mark":{"type":"rule","strokeWidth":7,"color":"#000000","strokeCap":"butt"},"encoding":{"y2":{"field":"y2"}}}]},
  {"width":259,"height":233,"title":{"text":"krmení","anchor":"start","frame":"group","fontSize":23,"offset":13},
   "encoding":{"x":{"field":"x","type":"quantitative","scale":{"domain":[30,259],"nice":false,"zero":false},"axis":{"values":[50,100,150,200,250],"labelExpr":"datum.value===100?'ne':datum.value===200?'ano':''","title":null}},
    "y":{"field":"y","type":"quantitative","scale":{"domain":[-30,630],"nice":false,"zero":false},"axis":{"values":[0,100,200,300,400,500,600],"labelExpr":"datum.value%200===0?datum.label:''","title":null}}},
   "layer":[{"data":{"name":"ck"},"mark":{"type":"point","shape":"square","filled":true,"size":9,"color":"#000000","opacity":0.62,"clip":true}},
    {"data":{"name":"bars"},"transform":[{"filter":"datum.p==='ck'"}],"mark":{"type":"rule","strokeWidth":7,"color":"#000000","strokeCap":"butt"},"encoding":{"y2":{"field":"y2"}}}]}
 ]},
 {"title":{"text":"d) Pěvuška modrá","anchor":"start","fontSize":29,"offset":17,"dx":51},"spacing":29,"hconcat":[
  {"width":238,"height":233,"title":{"text":"inkubace","anchor":"start","frame":"group","fontSize":23,"offset":13},
   "encoding":{"x":{"field":"x","type":"quantitative","scale":{"domain":[31,265],"nice":false,"zero":false},"axis":{"values":[50,100,150,200,250],"labelExpr":"datum.value===100?'ne':datum.value===200?'ano':''","title":null,"labelPadding":3,"labelFontSize":23}},
    "y":{"field":"y","type":"quantitative","scale":{"domain":[183,677],"nice":false,"zero":false},"axis":{"values":[200,250,300,350,400,450,500,550,600,650],"labelExpr":"datum.value%100===0?datum.label:''","title":null}}},
   "layer":[{"data":{"name":"di"},"mark":{"type":"point","shape":"square","filled":true,"size":9,"color":"#000000","opacity":0.62,"clip":true}},
    {"data":{"name":"bars"},"transform":[{"filter":"datum.p==='di'"}],"mark":{"type":"rule","strokeWidth":7,"color":"#000000","strokeCap":"butt"},"encoding":{"y2":{"field":"y2"}}}]},
  {"width":259,"height":233,"title":{"text":"krmení","anchor":"start","frame":"group","fontSize":23,"offset":13},
   "encoding":{"x":{"field":"x","type":"quantitative","scale":{"domain":[31,247],"nice":false,"zero":false},"axis":{"values":[50,100,150,200],"labelExpr":"datum.value===100?'ne':datum.value===200?'ano':''","title":null,"labelPadding":3,"labelFontSize":23}},
    "y":{"field":"y","type":"quantitative","scale":{"domain":[183,677],"nice":false,"zero":false},"axis":{"values":[200,250,300,350,400,450,500,550,600,650],"labelExpr":"datum.value%100===0?datum.label:''","title":null}}},
   "layer":[{"data":{"name":"dk"},"mark":{"type":"point","shape":"square","filled":true,"size":9,"color":"#000000","opacity":0.62,"clip":true}},
    {"data":{"name":"bars"},"transform":[{"filter":"datum.p==='dk'"}],"mark":{"type":"rule","strokeWidth":7,"color":"#000000","strokeCap":"butt"},"encoding":{"y2":{"field":"y2"}}}]}
 ]}
 ]
}]
}
